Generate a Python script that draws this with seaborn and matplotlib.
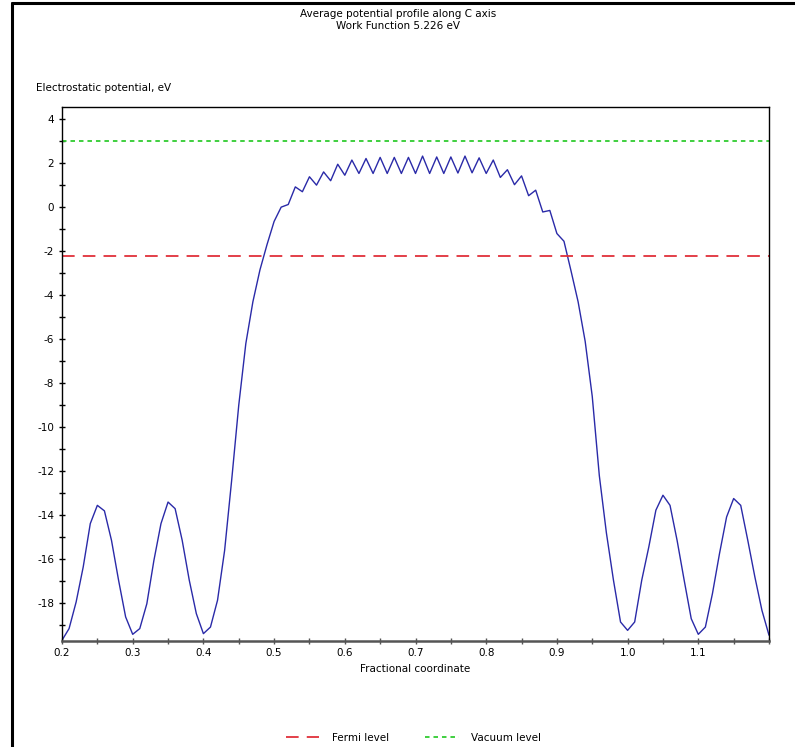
import matplotlib
matplotlib.use("Agg")
import matplotlib.pyplot as plt
import seaborn as sns
import pandas as pd
from matplotlib.lines import Line2D
from matplotlib.ticker import MultipleLocator, FixedLocator

# ---------------- data ----------------
title_lines = ["Average potential profile along C axis", "Work Function 5.226 eV"]
x_label = "Fractional coordinate"
y_label = "Electrostatic potential, eV"

fermi_level = -2.226
vacuum_level = 3.0

frac_coord = [
    0.20, 0.21, 0.22, 0.23, 0.24, 0.25, 0.26, 0.27, 0.28, 0.29,
    0.30, 0.31, 0.32, 0.33, 0.34, 0.35, 0.36, 0.37, 0.38, 0.39,
    0.40, 0.41, 0.42, 0.43, 0.44, 0.45, 0.46, 0.47, 0.48, 0.49,
    0.50, 0.51, 0.52, 0.53, 0.54, 0.55, 0.56, 0.57, 0.58, 0.59,
    0.60, 0.61, 0.62, 0.63, 0.64, 0.65, 0.66, 0.67, 0.68, 0.69,
    0.70, 0.71, 0.72, 0.73, 0.74, 0.75, 0.76, 0.77, 0.78, 0.79,
    0.80, 0.81, 0.82, 0.83, 0.84, 0.85, 0.86, 0.87, 0.88, 0.89,
    0.90, 0.91, 0.92, 0.93, 0.94, 0.95, 0.96, 0.97, 0.98, 0.99,
    1.00, 1.01, 1.02, 1.03, 1.04, 1.05, 1.06, 1.07, 1.08, 1.09,
    1.10, 1.11, 1.12, 1.13, 1.14, 1.15, 1.16, 1.17, 1.18, 1.19,
    1.20,
]
potential = [
    -19.68, -19.15, -17.94, -16.35, -14.38, -13.55, -13.80, -15.14, -16.95, -18.62,
    -19.41, -19.15, -18.02, -16.05, -14.38, -13.40, -13.70, -15.14, -16.95, -18.47,
    -19.38, -19.08, -17.86, -15.60, -12.40, -9.00, -6.20, -4.30, -2.85, -1.70,
    -0.65, 0.00, 0.12, 0.92, 0.70, 1.38, 1.00, 1.60, 1.20, 1.95,
    1.45, 2.14, 1.53, 2.21, 1.53, 2.26, 1.53, 2.26, 1.53, 2.26,
    1.53, 2.32, 1.53, 2.28, 1.53, 2.28, 1.55, 2.32, 1.56, 2.24,
    1.53, 2.14, 1.35, 1.70, 1.02, 1.42, 0.52, 0.77, -0.22, -0.15,
    -1.20, -1.55, -2.90, -4.30, -6.10, -8.60, -12.20, -14.80, -16.95, -18.85,
    -19.23, -18.85, -16.95, -15.44, -13.77, -13.09, -13.55, -15.14, -16.95, -18.70,
    -19.41, -19.08, -17.56, -15.74, -14.08, -13.24, -13.55, -15.14, -16.80, -18.32,
    -19.45,
]

x_ticks = [0.2, 0.3, 0.4, 0.5, 0.6, 0.7, 0.8, 0.9, 1.0, 1.1]
x_tick_labels = ["0.2", "0.3", "0.4", "0.5", "0.6", "0.7", "0.8", "0.9", "1.0", "1.1"]
y_ticks = [4, 2, 0, -2, -4, -6, -8, -10, -12, -14, -16, -18]

legend_labels = ["Fermi level", "Vacuum level"]

# ---------------- style ----------------
sns.set_theme(style="white")
plt.rcParams["font.family"] = ["DejaVu Sans"]
plt.rcParams["axes.unicode_minus"] = False
plt.rcParams["text.color"] = "black"

W, H = 795, 747
fig = plt.figure(figsize=(W / 100, H / 100), dpi=100)
ax_l, ax_r, ax_t, ax_b = 62, 769, 107, 640.7
ax = fig.add_axes([ax_l / W, 1 - ax_b / H, (ax_r - ax_l) / W, (ax_b - ax_t) / H])

df = pd.DataFrame({"x": frac_coord, "y": potential})
sns.lineplot(data=df, x="x", y="y", ax=ax, color="#2a2aa8", linewidth=1.0,
             legend=False, sort=False)

fermi_color = "#e0303a"
vac_color = "#30cc30"
ax.axhline(fermi_level, color=fermi_color, linewidth=1.3, dashes=(7, 4.5))
ax.axhline(vacuum_level, color=vac_color, linewidth=1.3, dashes=(2.5, 2.2))

ax.set_xlim(0.2, 1.2)
ax.set_ylim(-19.7, 4.55)

ax.xaxis.set_major_locator(FixedLocator(x_ticks))
ax.set_xticklabels(x_tick_labels)
ax.xaxis.set_minor_locator(MultipleLocator(0.05))
ax.yaxis.set_major_locator(FixedLocator(y_ticks))
ax.yaxis.set_minor_locator(MultipleLocator(1))

ax.tick_params(axis="both", which="both", direction="inout", length=5, width=1,
               color="black", labelsize=7.5, labelcolor="black", pad=3,
               bottom=True, left=True, top=False, right=False)
ax.tick_params(axis="x", which="both", color="#555555")

for side in ["top", "right", "left"]:
    ax.spines[side].set_color("black")
    ax.spines[side].set_linewidth(1)
ax.spines["bottom"].set_color("#555555")
ax.spines["bottom"].set_linewidth(1.8)

ax.set_xlabel(x_label, fontsize=7.5, color="black", labelpad=4)
ax.set_ylabel("")

fig.text(36 / W, 1 - 88 / H, y_label, fontsize=7.5, ha="left", va="center", color="black")
fig.text(398 / W, 1 - 14 / H, title_lines[0], fontsize=7.5, ha="center", va="center", color="black")
fig.text(398 / W, 1 - 26 / H, title_lines[1], fontsize=7.5, ha="center", va="center", color="black")

handles = [
    Line2D([], [], color=fermi_color, linewidth=1.3, dashes=(7, 4.5)),
    Line2D([], [], color=vac_color, linewidth=1.3, dashes=(2.5, 2.2)),
]
leg = fig.legend(handles, legend_labels, loc="center", bbox_to_anchor=(0.52, 1 - 738 / H),
                 ncol=2, frameon=False, fontsize=7.5, handlelength=3.2, columnspacing=3.5,
                 handletextpad=1.2)
for t in leg.get_texts():
    t.set_color("black")

# outer frame (left and top edges)
fig.add_artist(Line2D([11.5 / W, 11.5 / W], [0, 1 - 3 / H], transform=fig.transFigure,
                      color="black", linewidth=2.2))
fig.add_artist(Line2D([11.5 / W, 1], [1 - 3 / H, 1 - 3 / H], transform=fig.transFigure,
                      color="black", linewidth=2.2))

fig.savefig("out.png", dpi=100, facecolor="white")
